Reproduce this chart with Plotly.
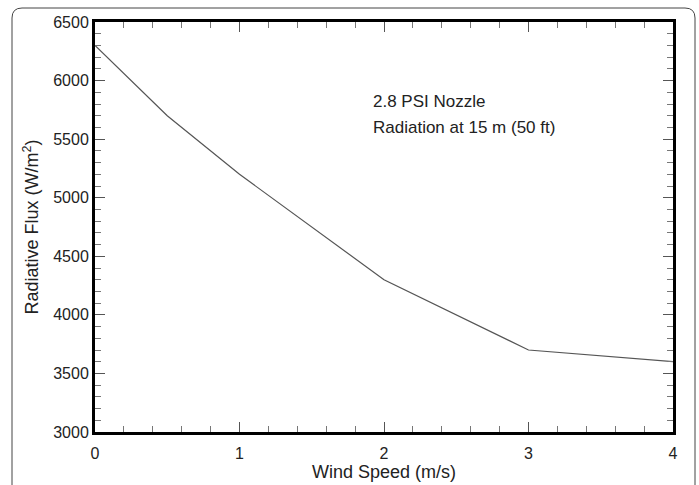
import plotly.graph_objects as go

wind_speed = [0, 0.5, 1, 2, 3, 4]
radiative_flux = [6300, 5700, 5200, 4300, 3700, 3600]
x_ticks = [0, 1, 2, 3, 4]
y_ticks = [3000, 3500, 4000, 4500, 5000, 5500, 6000, 6500]
notes = ["2.8 PSI Nozzle", "Radiation at 15 m (50 ft)"]

fig = go.Figure()
fig.add_trace(go.Scatter(x=wind_speed, y=radiative_flux, mode="lines",
                         line=dict(color="#555555", width=1.2), showlegend=False))

font = dict(family="Liberation Sans, Arial, sans-serif", color="#222222")

fig.update_layout(
    width=699, height=485,
    margin=dict(l=95, r=26, t=22, b=53, autoexpand=False),
    paper_bgcolor="white", plot_bgcolor="white",
    font=dict(**font, size=16),
    xaxis=dict(range=[0, 4], tickvals=x_ticks, ticks="inside", ticklen=10, tickwidth=1,
               tickcolor="#555555", showline=True, linecolor="black", linewidth=3,
               mirror="ticks", showgrid=False, zeroline=False, ticklabelstandoff=5,
               minor=dict(dtick=0.2, ticks="inside", ticklen=6, tickcolor="#777777", tickwidth=1),
               title=dict(text="Wind Speed (m/s)", font=dict(size=18), standoff=4),
               tickfont=dict(size=16), automargin=False),
    yaxis=dict(range=[3000, 6500], tickvals=y_ticks, ticks="inside", ticklen=10, tickwidth=1,
               tickcolor="#555555", showline=True, linecolor="black", linewidth=3,
               mirror="ticks", showgrid=False, zeroline=False,
               minor=dict(dtick=100, ticks="inside", ticklen=6, tickcolor="#777777", tickwidth=1),
               title=dict(text="Radiative Flux (W/m<sup>2</sup>)", font=dict(size=18), standoff=10),
               tickfont=dict(size=16), automargin=False),
)

fig.add_annotation(x=0.478, y=0.805, xref="paper", yref="paper", xanchor="left", yanchor="middle",
                   text=notes[0], showarrow=False, font=dict(size=17))
fig.add_annotation(x=0.478, y=0.742, xref="paper", yref="paper", xanchor="left", yanchor="middle",
                   text=notes[1], showarrow=False, font=dict(size=17))

# outer rounded frame
w_plot = 699 - 95 - 26
h_plot = 485 - 22 - 53
def px(x):
    return (x - 95) / w_plot
def py(y):
    return 1 - (y - 22) / h_plot
x0, x1, y0, y1, r = 12, 695, 8, 490, 10
path = (f"M {px(x0)},{py(y1)} L {px(x0)},{py(y0 + r)} "
        f"Q {px(x0)},{py(y0)} {px(x0 + r)},{py(y0)} "
        f"L {px(x1 - r)},{py(y0)} Q {px(x1)},{py(y0)} {px(x1)},{py(y0 + r)} "
        f"L {px(x1)},{py(y1)}")
fig.add_shape(type="path", path=path, xref="paper", yref="paper",
              line=dict(color="#444444", width=1), layer="below")

fig.write_html("out.html", config={"displayModeBar": False},
               post_script="document.body.style.margin='0';document.body.style.overflow='hidden';")
